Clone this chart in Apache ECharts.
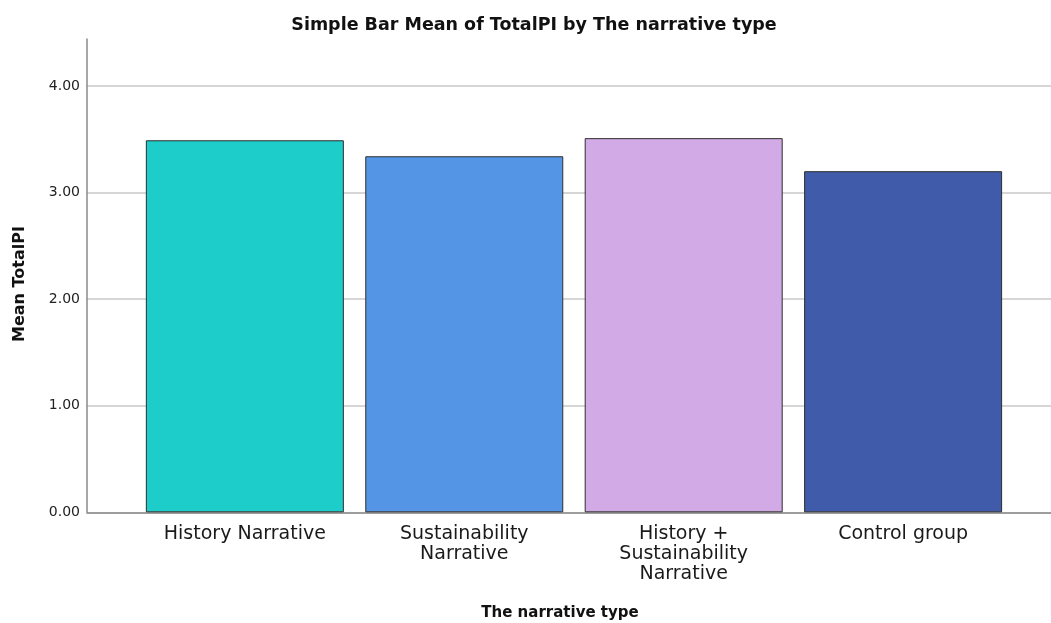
<!DOCTYPE html>
<html>
<head>
<meta charset="utf-8">
<title>Simple Bar Mean of TotalPI by The narrative type</title>
<script src="https://cdn.jsdelivr.net/npm/echarts@6/dist/echarts.min.js"></script>
<style>
  html, body { margin: 0; padding: 0; background: #ffffff; }
  #chart { width: 1051px; height: 623px; }
</style>
</head>
<body>
<div id="chart"></div>
<script>
// Narrative groups and their mean TotalPI
const categories = ['History Narrative', 'Sustainability\nNarrative', 'History +\nSustainability\nNarrative', 'Control group'];
const means = [3.49, 3.34, 3.51, 3.20];
const yTicks = [0, 1, 2, 3, 4];

const palette = ['#1ccdca', '#5496e5', '#d2aae5', '#3f5ba9'];
const FONT = '"DejaVu Sans", sans-serif';

const chart = echarts.init(document.getElementById('chart'), null, { renderer: 'canvas' });

chart.setOption({
  animation: false,
  backgroundColor: '#ffffff',
  title: [
    {
      text: 'Simple Bar Mean of TotalPI by The narrative type',
      left: 529, top: 11, textAlign: 'center',
      textStyle: { fontFamily: FONT, fontWeight: 'bold', fontSize: 17.5, color: '#111' }
    },
    {
      text: 'The narrative type',
      left: 555, top: 601, textAlign: 'center',
      textStyle: { fontFamily: FONT, fontWeight: 'bold', fontSize: 15, color: '#111' }
    }
  ],
  // rotated y-axis title
  graphic: [{
    type: 'text',
    x: 20, y: 284,
    rotation: Math.PI / 2,
    style: {
      text: 'Mean TotalPI',
      fontFamily: FONT, fontWeight: 'bold', fontSize: 16, fill: '#111',
      align: 'center', verticalAlign: 'middle'
    }
  }],
  grid: { left: 87, right: 0, top: 39, bottom: 110.7, containLabel: false },
  xAxis: {
    type: 'value',
    min: -0.7194,
    max: 3.674,
    splitLine: { show: false },
    axisTick: { show: false },
    axisLine: { show: true, onZero: false, lineStyle: { color: '#8a8a8a', width: 1.5 } },
    axisLabel: {
      customValues: categories.map((c, i) => i),
      formatter: v => categories[Math.round(v)] || '',
      fontFamily: FONT, fontSize: 19, lineHeight: 20, color: '#1a1a1a',
      margin: 12, align: 'center'
    }
  },
  yAxis: {
    type: 'value',
    min: 0,
    max: 4.44,
    interval: 1,
    axisLine: { show: true, onZero: false, lineStyle: { color: '#8a8a8a', width: 1.5 } },
    axisTick: { show: false },
    splitLine: {
      show: true,
      lineStyle: { color: ['#c9c9c9', '#c9c9c9', '#c9c9c9', '#c9c9c9', '#c9c9c9', 'rgba(0,0,0,0)'], width: 1.5 }
    },
    axisLabel: {
      formatter: v => (yTicks.includes(v) ? v.toFixed(2) : ''),
      fontFamily: FONT, fontSize: 14, color: '#222', margin: 7
    }
  },
  series: [{
    type: 'bar',
    barWidth: 198,
    data: means.map((m, i) => ({
      value: [i, m],
      itemStyle: { color: palette[i] }
    })),
    itemStyle: { borderColor: '#2e2e2e', borderWidth: 1 },
    emphasis: { disabled: true }
  }]
});
</script>
</body>
</html>
